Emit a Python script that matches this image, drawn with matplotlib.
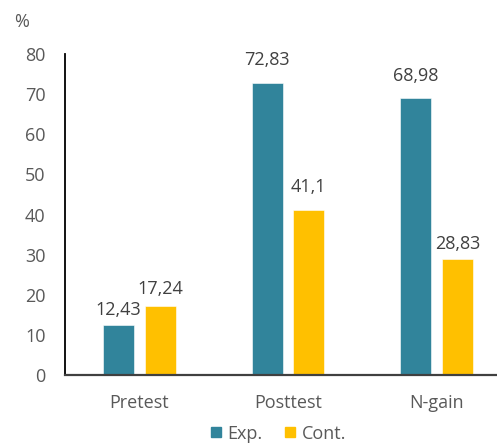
import matplotlib.pyplot as plt
import numpy as np

categories = ["Pretest", "Posttest", "N-gain"]
exp_values = [12.43, 72.83, 68.98]
cont_values = [17.24, 41.1, 28.83]
series_names = ["Exp.", "Cont."]

# vertical gap (points) between each bar top and its value label
exp_label_gap = [7.5, 12.5, 12.5]
cont_label_gap = [8.5, 13, 7.5]

TEAL = "#31849B"
GOLD = "#FFC000"
TEXT = "#595959"
FS = 13

plt.rcParams["font.family"] = ["Open Sans", "DejaVu Sans"]

fig = plt.figure(figsize=(4.97, 4.44), dpi=100)
ax = fig.add_axes([65 / 497, 69 / 444, 446 / 497, 321 / 444])

x = np.arange(len(categories))
width = 0.21
offset = 0.14

bars_exp = ax.bar(x - offset, exp_values, width, color=TEAL, edgecolor="white", linewidth=0.4, label=series_names[0])
bars_cont = ax.bar(x + offset, cont_values, width, color=GOLD, edgecolor="white", linewidth=0.4, label=series_names[1])

def fmt(v):
    return f"{v:g}".replace(".", ",")

for bars, vals, gaps in ((bars_exp, exp_values, exp_label_gap), (bars_cont, cont_values, cont_label_gap)):
    for b, v, g in zip(bars, vals, gaps):
        ax.annotate(fmt(v), (b.get_x() + b.get_width() / 2, v), xytext=(0, g),
                    textcoords="offset points", ha="center", va="baseline",
                    fontsize=FS, color="#404040")

ax.set_xlim(-0.5, 2.5)
ax.set_ylim(0, 80)
ax.set_yticks(range(0, 81, 10))
ax.set_xticks(x)
ax.set_xticklabels(categories)
ax.tick_params(axis="both", length=0, labelsize=FS, labelcolor=TEXT)
ax.tick_params(axis="y", pad=14)
ax.tick_params(axis="x", pad=14)

for side in ("top", "right"):
    ax.spines[side].set_visible(False)
ax.spines["left"].set_color("black")
ax.spines["left"].set_linewidth(1.3)
ax.spines["bottom"].set_color("#404040")
ax.spines["bottom"].set_linewidth(1.6)

fig.text(14 / 497, 1 - 22 / 444, "%", fontsize=FS, color=TEXT, ha="left", va="center")

handles = [plt.Line2D([], [], marker="s", linestyle="", markersize=7, color=c) for c in (TEAL, GOLD)]
fig.legend(handles, series_names, loc="center", bbox_to_anchor=(0.556, 0.023), ncol=2,
           frameon=False, fontsize=FS, labelcolor=TEXT, handletextpad=0.15,
           columnspacing=1.0, handlelength=1.0)

fig.savefig("out.png", dpi=100)
